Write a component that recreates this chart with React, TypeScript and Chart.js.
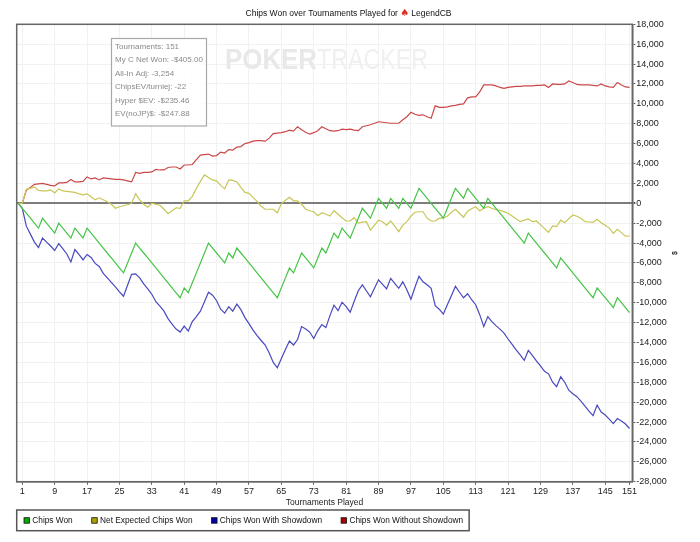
import { useEffect, useRef } from "react";
import { Chart, registerables } from "chart.js";

Chart.register(...registerables);

const FONT = "'Liberation Sans', Arial, sans-serif";

const TITLE_TEXT = "Chips Won over Tournaments Played for ";
const TITLE_PLAYER = "LegendCB";
const X_TITLE = "Tournaments Played";

const X_TICKS = [1, 9, 17, 25, 33, 41, 49, 57, 65, 73, 81, 89, 97, 105, 113, 121, 129, 137, 145, 151];
const Y_TICKS = [18000, 16000, 14000, 12000, 10000, 8000, 6000, 4000, 2000, 0, -2000, -4000, -6000, -8000, -10000,
  -12000, -14000, -16000, -18000, -20000, -22000, -24000, -26000, -28000];

const SERIES_LABELS = ["Chips Won", "Net Expected Chips Won", "Chips Won With Showdown", "Chips Won Without Showdown"];

const INFO_LINES = [
  "Tournaments: 151",
  "My C Net Won: -$405.00",
  "All-In Adj: -3,254",
  "ChipsEV/turniej: -22",
  "Hyper $EV: -$235.46",
  "EV(noJP)$: -$247.88",
];

const CHIPS_WON = [
  0, -500, -1000, -1500, -2000, -2500, -1500, -2000, -2500, -3000,
  -2000, -2500, -3000, -3500, -2500, -3000, -3500, -2500, -3000, -3500,
  -4000, -4500, -5000, -5500, -6000, -6500, -7000, -6000, -5000, -4000,
  -4500, -5000, -5500, -6000, -6500, -7000, -7500, -8000, -8500, -9000,
  -9500, -8500, -9000, -8000, -7000, -6000, -5000, -4000, -4500, -5000,
  -5500, -6000, -5000, -5500, -4500, -5000, -5500, -6000, -6500, -7000,
  -7500, -8000, -8500, -9000, -9500, -8500, -7500, -6500, -7000, -6000,
  -5000, -5500, -6000, -6500, -5500, -4500, -5000, -4000, -3000, -3500,
  -2500, -3000, -3500, -2500, -1500, -500, -1000, -1500, -500, 500,
  0, -500, 500, 0, -500, 500, 0, -500, 500, 1500,
  1000, 500, 0, -500, -1000, -1500, -500, 500, 1500, 1000,
  500, 1500, 1000, 500, 0, -500, 500, 0, -500, -1000,
  -1500, -2000, -2500, -3000, -3500, -4000, -3000, -3500, -4000, -4500,
  -5000, -5500, -6000, -6500, -5500, -6000, -6500, -7000, -7500, -8000,
  -8500, -9000, -9500, -8500, -9000, -9500, -10000, -10500, -9500, -10000,
  -10500, -11000,
];

const NET_EXPECTED = [
  0, 0, 1400, 1500, 1650, 1300, 1250, 1250, 1350, 1050,
  1450, 1250, 1200, 1150, 1100, 950, 850, 950, 650, 350,
  550, 350, 150, -100, -500, -350, -250, -150, 0, 950,
  350, -100, -400, 0, -100, -200, -600, -1050, -750, -450,
  -500, 250, 250, 700, 1500, 2200, 2850, 2600, 2350, 2250,
  1800, 1450, 2350, 2300, 2150, 1600, 1100, 1000, 600, 200,
  -300, -600, -600, -600, -950, -50, 300, 600, 250, 250,
  -100, -600, -750, -850, -1250, -950, -1100, -1280, -750, -1100,
  -1450, -1780, -1780, -1450, -2000, -1900, -1850, -2700, -2200, -1700,
  -1850, -2200, -1780, -2300, -2850, -2200, -1850, -1300, -900, -850,
  -850, -1500, -1780, -1780, -1500, -1500, -1300, -900, -600, -1000,
  -1400, -800, -550, -350, -775, -500, -340, -500, -650, -700,
  -840, -1000, -1280, -1550, -1850, -1700, -1580, -1850, -1780, -2150,
  -2550, -2920, -2280, -2350, -1700, -1950, -1550, -1180, -1300, -1500,
  -1850, -1880, -1910, -1610, -1950, -2200, -2500, -3020, -2615, -2950,
  -3300, -3290,
];

const WITH_SHOWDOWN = [
  0, -500, -2300, -3100, -3900, -4450, -3500, -3900, -4300, -4750,
  -4050, -4550, -5100, -5900, -4650, -5150, -5700, -5150, -5450, -6050,
  -6350, -7050, -7500, -7950, -8400, -8900, -9350, -8250, -7150, -7100,
  -7500, -8100, -8600, -9150, -9900, -10350, -10850, -11600, -12150, -12650,
  -12950, -12350, -12850, -11900, -11400, -10850, -9900, -8950, -9250, -9800,
  -10650, -11050, -10400, -10850, -10150, -10700, -11500, -12100, -12750, -13300,
  -13800, -14250, -15050, -16000, -16550, -15600, -14700, -13850, -14250, -13700,
  -12400, -12650, -12950, -13600, -12800, -12200, -12500, -11300, -10250, -10800,
  -9950, -10400, -10950, -9850, -8800, -8200, -8800, -9400, -8550, -7700,
  -8150, -8600, -7550, -8050, -8550, -7900, -8700, -9650, -8450, -7350,
  -7900, -8200, -8550, -10300, -10650, -11150, -10200, -9300, -8350, -8950,
  -9500, -9100, -9700, -10200, -11200, -12400, -11400, -11900, -12300, -12650,
  -13050, -13650, -14200, -14750, -15250, -15800, -14800, -15300, -15850, -16350,
  -16900, -17150, -18000, -18450, -17450, -18000, -18800, -19150, -19450, -19900,
  -20400, -20900, -21350, -20300, -21000, -21300, -21700, -22150, -21650, -21900,
  -22200, -22650,
];

const WITHOUT_SHOWDOWN = [
  0, 0, 1300, 1600, 1900, 1950, 2000, 1900, 1800, 1750,
  2050, 2050, 2100, 2400, 2150, 2150, 2200, 2650, 2450, 2550,
  2350, 2550, 2500, 2450, 2400, 2400, 2350, 2250, 2150, 3100,
  3000, 3100, 3100, 3150, 3400, 3350, 3350, 3600, 3650, 3650,
  3450, 3850, 3850, 3900, 4400, 4850, 4900, 4950, 4750, 4800,
  5150, 5050, 5400, 5350, 5650, 5700, 6000, 6100, 6250, 6300,
  6300, 6250, 6550, 7000, 7050, 7100, 7200, 7350, 7250, 7700,
  7400, 7150, 6950, 7100, 7300, 7700, 7500, 7300, 7250, 7300,
  7450, 7400, 7450, 7350, 7300, 7700, 7800, 7900, 8050, 8200,
  8150, 8100, 8050, 8050, 8050, 8400, 8700, 9150, 8950, 8850,
  8900, 8700, 8550, 9800, 9650, 9650, 9700, 9800, 9850, 9950,
  10000, 10600, 10700, 10700, 11200, 11900, 11900, 11900, 11800, 11650,
  11550, 11650, 11700, 11750, 11750, 11800, 11800, 11800, 11850, 11850,
  11900, 11650, 12000, 11950, 11950, 12000, 12300, 12150, 11950, 11900,
  11900, 11900, 11850, 11800, 12000, 11800, 11700, 11650, 12150, 11900,
  11700, 11650,
];

const LINE_COLORS = ["rgb(70,196,70)", "rgb(200,198,86)", "rgb(72,72,192)", "rgb(204,72,72)"];
const LEGEND_COLORS = ["rgb(0,170,0)", "rgb(170,160,0)", "rgb(0,0,160)", "rgb(170,0,0)"];

const toPoints = (arr: number[]) => arr.map((v, i) => ({ x: i, y: v }));

const decorPlugin = {
  id: "decor",
  beforeDraw(chart: any) {
    const ctx = chart.ctx;
    ctx.save();
    ctx.fillStyle = "#ffffff";
    ctx.fillRect(0, 0, chart.width, chart.height);
    ctx.restore();
  },
  beforeDatasetsDraw(chart: any) {
    const ctx = chart.ctx;
    ctx.save();
    ctx.textBaseline = "alphabetic";
    ctx.textAlign = "left";
    ctx.font = `bold 30px ${FONT}`;
    const w1 = ctx.measureText("POKER").width;
    ctx.save();
    ctx.translate(225, 68.5);
    ctx.scale(92 / w1, 1);
    ctx.fillStyle = "#e8e8e8";
    ctx.fillText("POKER", 0, 0);
    ctx.restore();
    ctx.font = `30px ${FONT}`;
    const w2 = ctx.measureText("TRACKER").width;
    ctx.save();
    ctx.translate(317, 68.5);
    ctx.scale(111 / w2, 1);
    ctx.fillStyle = "#f0f0f0";
    ctx.fillText("TRACKER", 0, 0);
    ctx.restore();
    ctx.restore();
  },
  afterDraw(chart: any) {
    const ctx = chart.ctx;
    const { left, right, top, bottom } = chart.chartArea;
    ctx.save();
    ctx.strokeStyle = "#666666";
    ctx.lineWidth = 1.5;
    ctx.strokeRect(left, top, right - left, bottom - top);

    // title
    const titleFont = `8.5px ${FONT}`;
    ctx.font = titleFont;
    ctx.textBaseline = "middle";
    ctx.textAlign = "left";
    const tw = ctx.measureText(TITLE_TEXT).width;
    const iw = 9;
    const pw = ctx.measureText(TITLE_PLAYER).width;
    const total = tw + iw + 2 + pw;
    const tx = 348.5 - total / 2;
    ctx.fillStyle = "#111111";
    ctx.fillText(TITLE_TEXT, tx, 13.5);
    ctx.fillStyle = "#e03020";
    ctx.font = `10px 'DejaVu Sans', sans-serif`;
    ctx.fillText("\u2660", tx + tw, 13);
    ctx.font = titleFont;
    ctx.fillStyle = "#111111";
    ctx.fillText(TITLE_PLAYER, tx + tw + iw + 2, 13.5);

    // x title
    ctx.textAlign = "center";
    ctx.font = `8.5px ${FONT}`;
    ctx.fillStyle = "#222222";
    ctx.fillText(X_TITLE, (left + right) / 2, 503);

    // right axis symbol
    ctx.save();
    ctx.translate(675, 253);
    ctx.rotate(-Math.PI / 2);
    ctx.font = `bold 7px ${FONT}`;
    ctx.fillStyle = "#333333";
    ctx.fillText("$", 0, 0);
    ctx.restore();

    // info box
    ctx.fillStyle = "rgba(255,255,255,0.85)";
    ctx.fillRect(111.5, 38.5, 95, 87.5);
    ctx.strokeStyle = "#a8a8a8";
    ctx.lineWidth = 1.2;
    ctx.strokeRect(111.5, 38.5, 95, 87.5);
    ctx.textAlign = "left";
    ctx.font = `8px ${FONT}`;
    ctx.fillStyle = "#8a8a8a";
    INFO_LINES.forEach((t, i) => ctx.fillText(t, 115, 46.3 + i * 13.5));

    // legend
    ctx.font = `8.3px ${FONT}`;
    let x = 24;
    const cy = 520.5;
    const positions: number[] = [];
    SERIES_LABELS.forEach((lab) => {
      positions.push(x);
      x += 8.3 + ctx.measureText(lab).width + 19;
    });
    const boxRight = x - 19 + 6;
    ctx.fillStyle = "#ffffff";
    ctx.fillRect(16.7, 510, boxRight - 16.7, 20.7);
    ctx.strokeStyle = "#555555";
    ctx.lineWidth = 1.5;
    ctx.strokeRect(16.7, 510, boxRight - 16.7, 20.7);
    SERIES_LABELS.forEach((lab, i) => {
      const px = positions[i];
      ctx.fillStyle = LEGEND_COLORS[i];
      ctx.fillRect(px, cy - 2.8, 5.5, 5.5);
      ctx.strokeStyle = "#111111";
      ctx.lineWidth = 0.8;
      ctx.strokeRect(px, cy - 2.8, 5.5, 5.5);
      ctx.fillStyle = "#111111";
      ctx.fillText(lab, px + 8.3, cy);
    });
    ctx.restore();
  },
};

export default function App() {
  const ref = useRef<HTMLCanvasElement | null>(null);
  useEffect(() => {
    if (!ref.current) return;
    const series = [CHIPS_WON, NET_EXPECTED, WITH_SHOWDOWN, WITHOUT_SHOWDOWN];
    const chart = new Chart(ref.current, {
      type: "line",
      data: {
        datasets: series.map((s, i) => ({
          label: SERIES_LABELS[i],
          data: toPoints(s),
          borderColor: LINE_COLORS[i],
          backgroundColor: LINE_COLORS[i],
          borderWidth: 1.2,
          pointRadius: 0,
          tension: 0,
          fill: false,
        })),
      },
      options: {
        animation: false,
        responsive: false,
        devicePixelRatio: 1,
        layout: { padding: { left: 16.7, top: 24.3, right: 0, bottom: 0 } },
        plugins: { legend: { display: false }, title: { display: false }, tooltip: { enabled: false } },
        scales: {
          x: {
            type: "linear",
            min: -0.38,
            max: 151.69,
            afterBuildTicks: (s: any) => {
              s.ticks = X_TICKS.map((v) => ({ value: v }));
            },
            afterFit: (s: any) => {
              s.height = 60.3;
            },
            grid: { color: "#f1f1f1", lineWidth: 1, tickColor: "#555555", tickLength: 3 },
            border: { display: true, color: "#666666", width: 1.5 },
            ticks: {
              autoSkip: false,
              maxRotation: 0,
              padding: 1,
              color: "#222222",
              font: { family: FONT, size: 9 },
              callback: (v: any) => String(v),
            },
          },
          y: {
            type: "linear",
            position: "right",
            min: -28000,
            max: 18000,
            afterBuildTicks: (s: any) => {
              s.ticks = Y_TICKS.map((v) => ({ value: v }));
            },
            afterFit: (s: any) => {
              s.width = 67.7;
            },
            grid: {
              color: (c: any) => (c.tick && c.tick.value === 0 ? "#7d7d7d" : "#f1f1f1"),
              lineWidth: (c: any) => (c.tick && c.tick.value === 0 ? 2 : 1),
              tickColor: "#555555",
              tickLength: 3,
            },
            border: { display: true, color: "#666666", width: 1.5 },
            ticks: {
              padding: 1,
              color: "#222222",
              font: { family: FONT, size: 9 },
              callback: (v: any) => Number(v).toLocaleString("en-US"),
            },
          },
        },
      },
      plugins: [decorPlugin],
    } as any);
    return () => chart.destroy();
  }, []);
  return (
    <div style={{ position: "absolute", left: 0, top: 0, width: 700, height: 542, background: "#fff" }}>
      <canvas ref={ref} width={700} height={542} style={{ display: "block" }} />
    </div>
  );
}
